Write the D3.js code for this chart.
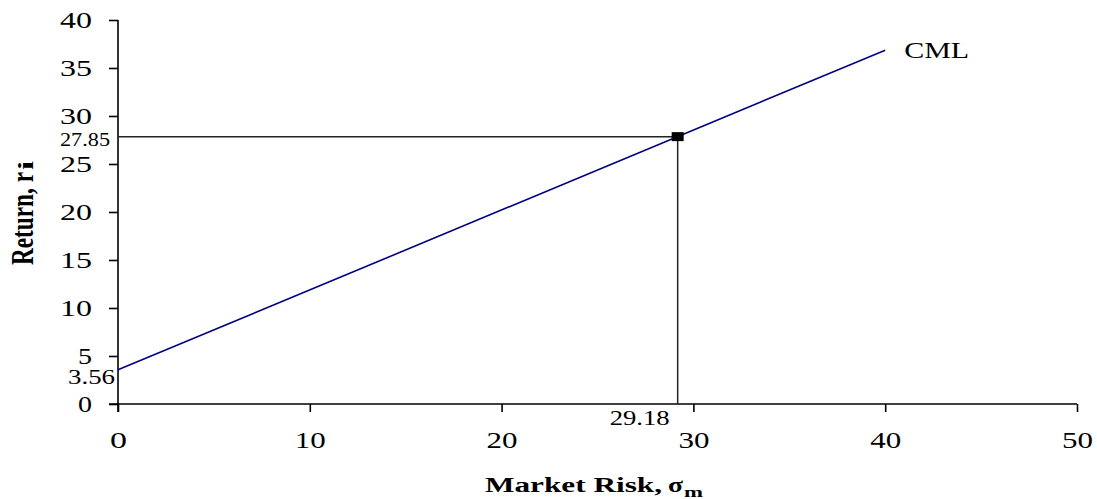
<!DOCTYPE html>
<html>
<head>
<meta charset="utf-8">
<script src="https://cdn.jsdelivr.net/npm/d3@7"></script>
<style>
  html, body { margin: 0; padding: 0; background: #fff; }
  text { font-family: "Liberation Serif", "Times New Roman", serif; fill: #000; }
</style>
</head>
<body>
<svg id="chart" width="1097" height="499"></svg>
<script>
// ---- data ----
const xTicks = [0, 10, 20, 30, 40, 50];
const yTicks = [0, 5, 10, 15, 20, 25, 30, 35, 40];
const cmlRisk = [0, 40];
const cmlReturn = [3.56, 36.86];
const marketRisk = [29.18];
const marketReturn = [27.85];
const lineLabel = ["CML"];

const svg = d3.select("#chart");
const x = d3.scaleLinear().domain([0, 50]).range([118, 1077]);
const y = d3.scaleLinear().domain([0, 40]).range([404, 20]);

// ---- axes ----
const yAxis = svg.append("g").attr("transform", `translate(${x(0)},0)`)
  .call(d3.axisLeft(y).tickValues(yTicks).tickSize(9).tickPadding(0).tickFormat(d3.format("d")));
const xAxis = svg.append("g").attr("transform", `translate(0,${y(0)})`)
  .call(d3.axisBottom(x).tickValues(xTicks).tickSize(8).tickPadding(0).tickFormat(d3.format("d")));

[yAxis, xAxis].forEach(g => {
  g.select(".domain").attr("stroke", "#000").attr("stroke-width", 1.6);
  g.selectAll(".tick line").attr("stroke", "#000").attr("stroke-width", 1.6);
  g.selectAll("text").attr("font-family", "Liberation Serif").attr("font-size", 22.5).attr("fill", "#000");
});
yAxis.select(".domain").attr("d", `M0,${y(40)}V${y(0) + 8}`);
xAxis.select(".domain").attr("d", `M${x(0) - 9},0H${x(50)}`);

yAxis.selectAll(".tick text")
  .attr("x", -26).attr("dy", "0.34em")
  .attr("text-anchor", "end")
  .attr("textLength", d => String(d).length === 1 ? 14 : 32)
  .attr("lengthAdjust", "spacingAndGlyphs");
xAxis.selectAll(".tick text")
  .attr("y", 44).attr("dy", 0)
  .attr("textLength", d => String(d).length === 1 ? 17 : 31)
  .attr("lengthAdjust", "spacingAndGlyphs");

// ---- reference lines to market portfolio ----
const mx = x(marketRisk[0]), my = y(marketReturn[0]);
svg.append("line").attr("x1", x(0)).attr("x2", mx).attr("y1", my).attr("y2", my)
  .attr("stroke", "#222").attr("stroke-width", 1.5);
svg.append("line").attr("x1", mx).attr("x2", mx).attr("y1", my).attr("y2", y(0))
  .attr("stroke", "#222").attr("stroke-width", 1.5);

// ---- CML ----
const line = d3.line().x(d => x(d[0])).y(d => y(d[1]));
svg.append("path").datum(cmlRisk.map((r, i) => [r, cmlReturn[i]]))
  .attr("d", line).attr("fill", "none").attr("stroke", "#000080").attr("stroke-width", 1.6);

// ---- market point marker ----
svg.append("rect").attr("x", mx - 6).attr("y", my - 4.5).attr("width", 12).attr("height", 9)
  .attr("fill", "#000");

// ---- value labels ----
svg.append("text").attr("x", x(0) - 8).attr("y", my + 9.5)
  .attr("text-anchor", "end").attr("font-size", 19.5)
  .attr("textLength", 50).attr("lengthAdjust", "spacingAndGlyphs")
  .text(marketReturn[0].toFixed(2));
svg.append("text").attr("x", x(0) - 3).attr("y", y(cmlReturn[0]) + 14.5)
  .attr("text-anchor", "end").attr("font-size", 20)
  .attr("textLength", 47).attr("lengthAdjust", "spacingAndGlyphs")
  .text(cmlReturn[0].toFixed(2));
svg.append("text").attr("x", mx - 8).attr("y", y(0) + 21)
  .attr("text-anchor", "end").attr("font-size", 21)
  .attr("textLength", 60).attr("lengthAdjust", "spacingAndGlyphs")
  .text(marketRisk[0].toFixed(2));

// ---- CML label ----
svg.append("text").attr("x", x(cmlRisk[1]) + 19).attr("y", 58)
  .attr("font-size", 23).attr("textLength", 65).attr("lengthAdjust", "spacingAndGlyphs")
  .text(lineLabel[0]);

// ---- axis titles ----
svg.append("text").attr("x", 485).attr("y", 492)
  .attr("font-size", 21.5).attr("font-weight", "bold")
  .attr("textLength", 177).attr("lengthAdjust", "spacingAndGlyphs")
  .text("Market Risk,");
svg.append("text").attr("x", 668).attr("y", 492)
  .attr("font-size", 21.5).attr("font-weight", "bold")
  .attr("textLength", 15).attr("lengthAdjust", "spacingAndGlyphs")
  .text("σ");
svg.append("text").attr("x", 684).attr("y", 496.5)
  .attr("font-size", 15).attr("font-weight", "bold")
  .attr("textLength", 19).attr("lengthAdjust", "spacingAndGlyphs")
  .text("m");

const yt = svg.append("g").attr("transform", "translate(33,265) scale(1.4,1) rotate(-90)");
yt.append("text").attr("x", 0).attr("y", 0)
  .attr("font-size", 22).attr("font-weight", "bold")
  .attr("textLength", 93).attr("lengthAdjust", "spacingAndGlyphs")
  .text("Return, r");
yt.append("text").attr("x", 95).attr("y", 0)
  .attr("font-size", 15).attr("font-weight", "bold")
  .attr("textLength", 9).attr("lengthAdjust", "spacingAndGlyphs")
  .text("i");
</script>
</body>
</html>
